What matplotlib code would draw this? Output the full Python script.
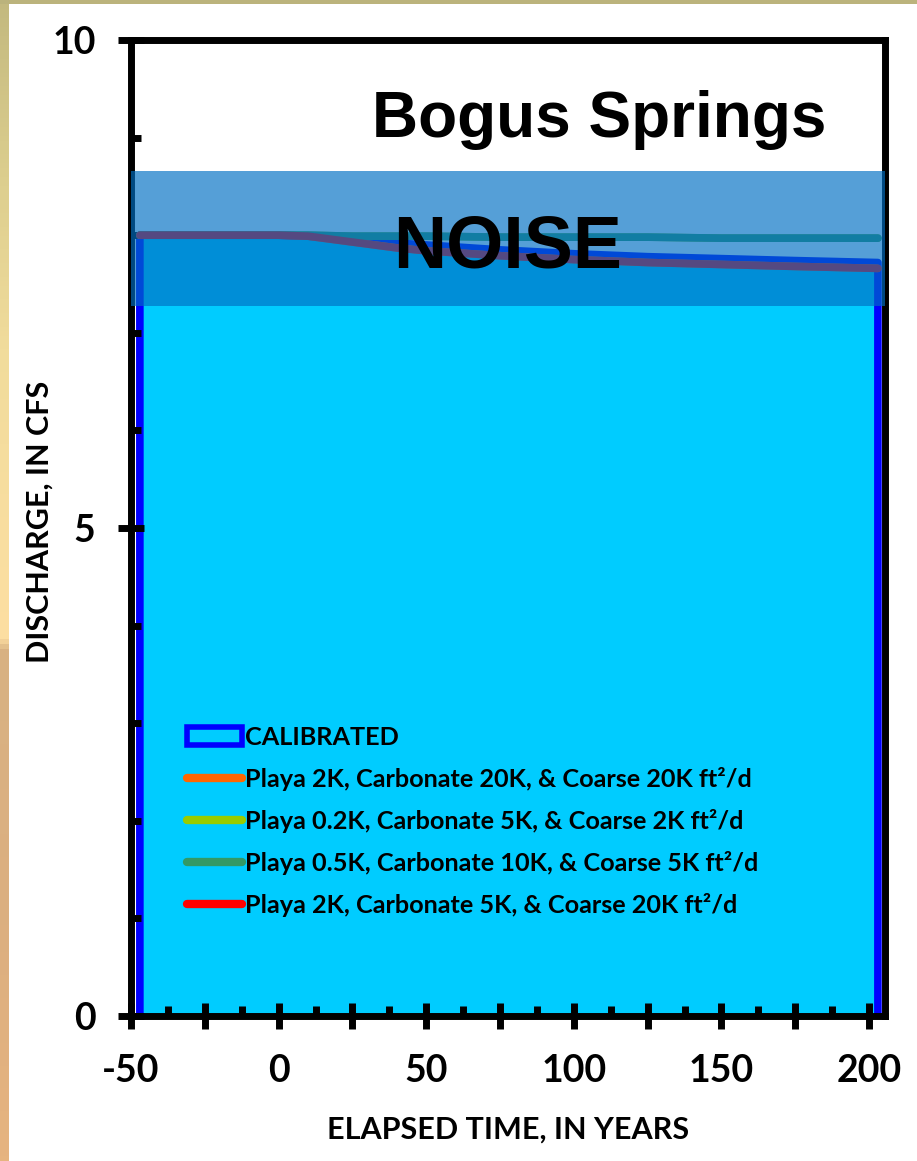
import numpy as np
import matplotlib
matplotlib.use('Agg')
import matplotlib.pyplot as plt
from matplotlib.colors import LinearSegmentedColormap
from matplotlib.patches import Patch
from matplotlib.lines import Line2D
from matplotlib.ticker import MultipleLocator, FuncFormatter

plt.rcParams['font.family'] = ['Lato', 'DejaVu Sans']
plt.rcParams['font.weight'] = 'bold'

# simulated spring discharge, cfs
years = [-47, -25, 0, 10, 25, 40, 50, 75, 100, 125, 150, 175, 203]
calibrated = [8.00, 8.00, 8.00, 7.99, 7.96, 7.92, 7.90, 7.85, 7.81, 7.78, 7.76, 7.74, 7.72]
playa2k_carb20k = [8.00, 8.00, 8.00, 7.99, 7.93, 7.87, 7.84, 7.79, 7.75, 7.72, 7.70, 7.68, 7.66]
playa02k_carb5k = [8.00, 8.00, 8.00, 8.00, 7.99, 7.99, 7.99, 7.98, 7.98, 7.98, 7.97, 7.97, 7.97]
playa05k_carb10k = [8.00, 8.00, 8.00, 8.00, 7.99, 7.99, 7.99, 7.98, 7.98, 7.98, 7.97, 7.97, 7.97]
playa2k_carb5k = [8.00, 8.00, 8.00, 7.99, 7.93, 7.87, 7.84, 7.79, 7.75, 7.72, 7.70, 7.68, 7.66]
noise_low, noise_high = 7.27, 8.66

scenario_labels = [
    'Playa 2K, Carbonate 20K, & Coarse 20K ft²/d',
    'Playa 0.2K, Carbonate 5K, & Coarse 2K ft²/d',
    'Playa 0.5K, Carbonate 10K, & Coarse 5K ft²/d',
    'Playa 2K, Carbonate 5K, & Coarse 20K ft²/d',
]
scenario_values = [playa2k_carb20k, playa02k_carb5k, playa05k_carb10k, playa2k_carb5k]
scenario_colors = ['#FF6600', '#99CC00', '#339966', '#FF0000']

fig = plt.figure(figsize=(9.17, 11.61), dpi=100)
fig.patch.set_facecolor('white')

# slide background showing at the edges
edge = LinearSegmentedColormap.from_list('edge', [
    (0.0, '#C3B97F'), (0.15, '#DCCE8E'), (0.3, '#F1DC9C'), (0.55, '#FDDFA2'),
    (0.56, '#D8B283'), (0.8, '#DCAF80'), (1.0, '#E6B47F')])
strip = fig.add_axes([0, 0, 9 / 917, 1])
strip.imshow(np.linspace(0, 1, 256).reshape(-1, 1), cmap=edge, aspect='auto')
strip.axis('off')
top = fig.add_axes([0, 1 - 4 / 1161, 1, 4 / 1161])
top.set_facecolor('#BBB37C')
top.set_xticks([]), top.set_yticks([])
for s in top.spines.values():
    s.set_visible(False)

ax = fig.add_axes([131 / 917, 1 - 1016 / 1161, 754 / 917, 976 / 1161])
ax.set_xlim(-50, 205.4)
ax.set_ylim(0, 10)

ax.fill_between(years, calibrated, 0, facecolor='#00CCFF', edgecolor='none', zorder=1)
ax.plot([years[0]] + years + [years[-1]], [0] + calibrated + [0],
        color='#0000FF', lw=5.5, zorder=1.5)
for vals, c in zip(scenario_values, scenario_colors):
    ax.plot(years, vals, color=c, lw=5.5, solid_capstyle='round', zorder=3)

ax.axhspan(noise_low, noise_high, color='#006FC3', alpha=0.667, lw=0, zorder=4)

ax.text(0.621, 0.9006, 'Bogus Springs', transform=ax.transAxes, ha='center', va='baseline',
        fontsize=46, fontweight='bold', family='Liberation Sans', zorder=6)
ax.text(0.499, 0.7674, 'NOISE', transform=ax.transAxes, ha='center', va='baseline',
        fontsize=53, fontweight='bold', family='Liberation Sans', zorder=6)

for s in ax.spines.values():
    s.set_linewidth(5)
    s.set_color('black')

ax.xaxis.set_major_locator(MultipleLocator(25))
ax.xaxis.set_minor_locator(MultipleLocator(12.5))
ax.xaxis.set_major_formatter(FuncFormatter(lambda v, p: f'{v:.0f}' if v % 50 == 0 else ''))
ax.yaxis.set_major_locator(MultipleLocator(5))
ax.yaxis.set_minor_locator(MultipleLocator(1))
ax.tick_params(which='major', direction='inout', length=19, width=5, labelsize=27)
ax.tick_params(which='minor', direction='in', length=7, width=5)
ax.tick_params(axis='x', which='major', pad=18)
ax.tick_params(axis='y', which='major', pad=16)

ax.set_xlabel('ELAPSED TIME, IN YEARS', fontsize=22, fontweight='bold')
ax.set_ylabel('DISCHARGE, IN CFS', fontsize=22, fontweight='bold')
ax.xaxis.set_label_coords(0.5, -0.102)
ax.yaxis.set_label_coords(-0.102, 0.506)

handles = [Patch(facecolor='#00CCFF', edgecolor='#0000FF', linewidth=4)]
handles += [Line2D([], [], color=c, lw=6, solid_capstyle='round') for c in scenario_colors]
leg = ax.legend(handles, ['CALIBRATED'] + scenario_labels, loc='upper left',
                bbox_to_anchor=(0.074, 0.297), frameon=False, fontsize=18.2,
                handlelength=2.2, handletextpad=0.12, labelspacing=0.71,
                borderaxespad=0, borderpad=0)
leg.set_zorder(10)

fig.savefig('out.png', dpi=100)
